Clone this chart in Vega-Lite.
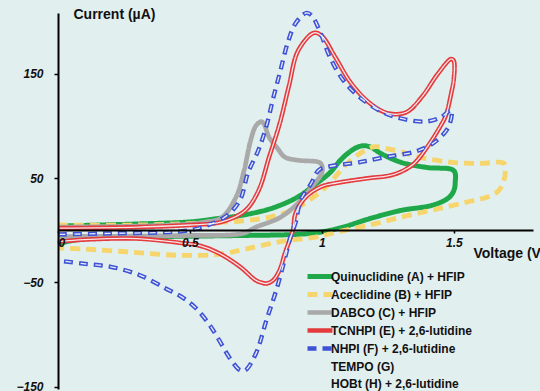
{
  "$schema": "https://vega.github.io/schema/vega-lite/v6.json",
  "autosize": "none",
  "padding": {"left": 58, "top": 13, "right": 7, "bottom": 2},
  "width": 475,
  "height": 376,
  "background": "#e2efef",
  "config": {"view": {"stroke": null}, "font": "Liberation Sans"},
  "datasets": {
    "cv": [
      {"s":"Quinuclidine (A) + HFIP","v":0,"i":4},{"s":"Quinuclidine (A) + HFIP","v":0.3,"i":6},{"s":"Quinuclidine (A) + HFIP","v":0.5,"i":8},{"s":"Quinuclidine (A) + HFIP","v":0.6,"i":11},{"s":"Quinuclidine (A) + HFIP","v":0.69,"i":14},{"s":"Quinuclidine (A) + HFIP","v":0.81,"i":21},{"s":"Quinuclidine (A) + HFIP","v":0.91,"i":32},{"s":"Quinuclidine (A) + HFIP","v":0.97,"i":43},{"s":"Quinuclidine (A) + HFIP","v":1.03,"i":55},{"s":"Quinuclidine (A) + HFIP","v":1.07,"i":67},{"s":"Quinuclidine (A) + HFIP","v":1.1,"i":74},{"s":"Quinuclidine (A) + HFIP","v":1.13,"i":79},{"s":"Quinuclidine (A) + HFIP","v":1.16,"i":81},{"s":"Quinuclidine (A) + HFIP","v":1.19,"i":79},{"s":"Quinuclidine (A) + HFIP","v":1.22,"i":74},{"s":"Quinuclidine (A) + HFIP","v":1.3,"i":65},{"s":"Quinuclidine (A) + HFIP","v":1.4,"i":60},{"s":"Quinuclidine (A) + HFIP","v":1.5,"i":57},{"s":"Quinuclidine (A) + HFIP","v":1.505,"i":45},{"s":"Quinuclidine (A) + HFIP","v":1.5,"i":38},{"s":"Quinuclidine (A) + HFIP","v":1.48,"i":31},{"s":"Quinuclidine (A) + HFIP","v":1.42,"i":24},{"s":"Quinuclidine (A) + HFIP","v":1.3,"i":19},{"s":"Quinuclidine (A) + HFIP","v":1.18,"i":11},{"s":"Quinuclidine (A) + HFIP","v":1.08,"i":3},{"s":"Quinuclidine (A) + HFIP","v":0.99,"i":-2},{"s":"Quinuclidine (A) + HFIP","v":0.9,"i":-4},{"s":"Quinuclidine (A) + HFIP","v":0.7,"i":-5},{"s":"Quinuclidine (A) + HFIP","v":0.4,"i":-6},{"s":"Quinuclidine (A) + HFIP","v":0.15,"i":-7},{"s":"Quinuclidine (A) + HFIP","v":0.05,"i":-10},{"s":"Quinuclidine (A) + HFIP","v":0,"i":-13},

      {"s":"Aceclidine (B) + HFIP","v":0,"i":5},{"s":"Aceclidine (B) + HFIP","v":0.3,"i":5},{"s":"Aceclidine (B) + HFIP","v":0.55,"i":7},{"s":"Aceclidine (B) + HFIP","v":0.7,"i":9},{"s":"Aceclidine (B) + HFIP","v":0.81,"i":13},{"s":"Aceclidine (B) + HFIP","v":0.91,"i":22},{"s":"Aceclidine (B) + HFIP","v":0.99,"i":36},{"s":"Aceclidine (B) + HFIP","v":1.03,"i":45},{"s":"Aceclidine (B) + HFIP","v":1.07,"i":57},{"s":"Aceclidine (B) + HFIP","v":1.11,"i":67},{"s":"Aceclidine (B) + HFIP","v":1.16,"i":76},{"s":"Aceclidine (B) + HFIP","v":1.2,"i":80},{"s":"Aceclidine (B) + HFIP","v":1.25,"i":78},{"s":"Aceclidine (B) + HFIP","v":1.3,"i":75},{"s":"Aceclidine (B) + HFIP","v":1.37,"i":70},{"s":"Aceclidine (B) + HFIP","v":1.49,"i":65},{"s":"Aceclidine (B) + HFIP","v":1.6,"i":64},{"s":"Aceclidine (B) + HFIP","v":1.69,"i":64},{"s":"Aceclidine (B) + HFIP","v":1.695,"i":56},{"s":"Aceclidine (B) + HFIP","v":1.69,"i":48},{"s":"Aceclidine (B) + HFIP","v":1.67,"i":38},{"s":"Aceclidine (B) + HFIP","v":1.63,"i":32},{"s":"Aceclidine (B) + HFIP","v":1.55,"i":27},{"s":"Aceclidine (B) + HFIP","v":1.43,"i":20},{"s":"Aceclidine (B) + HFIP","v":1.3,"i":12.5},{"s":"Aceclidine (B) + HFIP","v":1.18,"i":5},{"s":"Aceclidine (B) + HFIP","v":1.05,"i":-2},{"s":"Aceclidine (B) + HFIP","v":0.99,"i":-6},{"s":"Aceclidine (B) + HFIP","v":0.84,"i":-11},{"s":"Aceclidine (B) + HFIP","v":0.71,"i":-18},{"s":"Aceclidine (B) + HFIP","v":0.61,"i":-23},{"s":"Aceclidine (B) + HFIP","v":0.46,"i":-24},{"s":"Aceclidine (B) + HFIP","v":0.28,"i":-21},{"s":"Aceclidine (B) + HFIP","v":0.1,"i":-18},{"s":"Aceclidine (B) + HFIP","v":0,"i":-17},

      {"s":"DABCO (C) + HFIP","v":0,"i":3},{"s":"DABCO (C) + HFIP","v":0.3,"i":4},{"s":"DABCO (C) + HFIP","v":0.5,"i":6},{"s":"DABCO (C) + HFIP","v":0.56,"i":8},{"s":"DABCO (C) + HFIP","v":0.62,"i":12},{"s":"DABCO (C) + HFIP","v":0.675,"i":32},{"s":"DABCO (C) + HFIP","v":0.705,"i":57},{"s":"DABCO (C) + HFIP","v":0.73,"i":86},{"s":"DABCO (C) + HFIP","v":0.75,"i":100},{"s":"DABCO (C) + HFIP","v":0.77,"i":104},{"s":"DABCO (C) + HFIP","v":0.78,"i":102},{"s":"DABCO (C) + HFIP","v":0.8,"i":89},{"s":"DABCO (C) + HFIP","v":0.83,"i":79},{"s":"DABCO (C) + HFIP","v":0.86,"i":70},{"s":"DABCO (C) + HFIP","v":0.91,"i":67},{"s":"DABCO (C) + HFIP","v":0.99,"i":65},{"s":"DABCO (C) + HFIP","v":1.0,"i":62},{"s":"DABCO (C) + HFIP","v":1.0,"i":55},{"s":"DABCO (C) + HFIP","v":0.96,"i":41},{"s":"DABCO (C) + HFIP","v":0.91,"i":26},{"s":"DABCO (C) + HFIP","v":0.84,"i":12},{"s":"DABCO (C) + HFIP","v":0.75,"i":3},{"s":"DABCO (C) + HFIP","v":0.7,"i":-3},{"s":"DABCO (C) + HFIP","v":0.5,"i":-5},{"s":"DABCO (C) + HFIP","v":0,"i":-6},

      {"s":"TCNHPI (E) + 2,6-lutidine","v":0,"i":2},{"s":"TCNHPI (E) + 2,6-lutidine","v":0.3,"i":3},{"s":"TCNHPI (E) + 2,6-lutidine","v":0.5,"i":5},{"s":"TCNHPI (E) + 2,6-lutidine","v":0.62,"i":8},{"s":"TCNHPI (E) + 2,6-lutidine","v":0.71,"i":19},{"s":"TCNHPI (E) + 2,6-lutidine","v":0.76,"i":38},{"s":"TCNHPI (E) + 2,6-lutidine","v":0.8,"i":70},{"s":"TCNHPI (E) + 2,6-lutidine","v":0.84,"i":102},{"s":"TCNHPI (E) + 2,6-lutidine","v":0.875,"i":138},{"s":"TCNHPI (E) + 2,6-lutidine","v":0.91,"i":172},{"s":"TCNHPI (E) + 2,6-lutidine","v":0.97,"i":189},{"s":"TCNHPI (E) + 2,6-lutidine","v":1.0,"i":186},{"s":"TCNHPI (E) + 2,6-lutidine","v":1.05,"i":166},{"s":"TCNHPI (E) + 2,6-lutidine","v":1.11,"i":141},{"s":"TCNHPI (E) + 2,6-lutidine","v":1.18,"i":122},{"s":"TCNHPI (E) + 2,6-lutidine","v":1.25,"i":112},{"s":"TCNHPI (E) + 2,6-lutidine","v":1.32,"i":113},{"s":"TCNHPI (E) + 2,6-lutidine","v":1.38,"i":128},{"s":"TCNHPI (E) + 2,6-lutidine","v":1.44,"i":150},{"s":"TCNHPI (E) + 2,6-lutidine","v":1.49,"i":164},{"s":"TCNHPI (E) + 2,6-lutidine","v":1.5,"i":162},{"s":"TCNHPI (E) + 2,6-lutidine","v":1.5,"i":145},{"s":"TCNHPI (E) + 2,6-lutidine","v":1.49,"i":131},{"s":"TCNHPI (E) + 2,6-lutidine","v":1.47,"i":110},{"s":"TCNHPI (E) + 2,6-lutidine","v":1.45,"i":100},{"s":"TCNHPI (E) + 2,6-lutidine","v":1.4,"i":80},{"s":"TCNHPI (E) + 2,6-lutidine","v":1.35,"i":64},{"s":"TCNHPI (E) + 2,6-lutidine","v":1.3,"i":56},{"s":"TCNHPI (E) + 2,6-lutidine","v":1.25,"i":52},{"s":"TCNHPI (E) + 2,6-lutidine","v":1.18,"i":50},{"s":"TCNHPI (E) + 2,6-lutidine","v":1.05,"i":45},{"s":"TCNHPI (E) + 2,6-lutidine","v":1.0,"i":42},{"s":"TCNHPI (E) + 2,6-lutidine","v":0.94,"i":32},{"s":"TCNHPI (E) + 2,6-lutidine","v":0.9,"i":16},{"s":"TCNHPI (E) + 2,6-lutidine","v":0.89,"i":0},{"s":"TCNHPI (E) + 2,6-lutidine","v":0.86,"i":-22},{"s":"TCNHPI (E) + 2,6-lutidine","v":0.84,"i":-38},{"s":"TCNHPI (E) + 2,6-lutidine","v":0.815,"i":-48},{"s":"TCNHPI (E) + 2,6-lutidine","v":0.79,"i":-51},{"s":"TCNHPI (E) + 2,6-lutidine","v":0.77,"i":-50},{"s":"TCNHPI (E) + 2,6-lutidine","v":0.75,"i":-48},{"s":"TCNHPI (E) + 2,6-lutidine","v":0.69,"i":-35},{"s":"TCNHPI (E) + 2,6-lutidine","v":0.61,"i":-22},{"s":"TCNHPI (E) + 2,6-lutidine","v":0.54,"i":-15},{"s":"TCNHPI (E) + 2,6-lutidine","v":0.46,"i":-12},{"s":"TCNHPI (E) + 2,6-lutidine","v":0.3,"i":-8},{"s":"TCNHPI (E) + 2,6-lutidine","v":0.1,"i":-9},{"s":"TCNHPI (E) + 2,6-lutidine","v":0,"i":-11},

      {"s":"NHPI (F) + 2,6-lutidine","v":0,"i":-4},{"s":"NHPI (F) + 2,6-lutidine","v":0.2,"i":-3},{"s":"NHPI (F) + 2,6-lutidine","v":0.4,"i":-2},{"s":"NHPI (F) + 2,6-lutidine","v":0.5,"i":0},{"s":"NHPI (F) + 2,6-lutidine","v":0.57,"i":5},{"s":"NHPI (F) + 2,6-lutidine","v":0.64,"i":14},{"s":"NHPI (F) + 2,6-lutidine","v":0.69,"i":29},{"s":"NHPI (F) + 2,6-lutidine","v":0.72,"i":55},{"s":"NHPI (F) + 2,6-lutidine","v":0.76,"i":77},{"s":"NHPI (F) + 2,6-lutidine","v":0.79,"i":100},{"s":"NHPI (F) + 2,6-lutidine","v":0.815,"i":126},{"s":"NHPI (F) + 2,6-lutidine","v":0.84,"i":150},{"s":"NHPI (F) + 2,6-lutidine","v":0.87,"i":179},{"s":"NHPI (F) + 2,6-lutidine","v":0.9,"i":198},{"s":"NHPI (F) + 2,6-lutidine","v":0.94,"i":208},{"s":"NHPI (F) + 2,6-lutidine","v":0.96,"i":206},{"s":"NHPI (F) + 2,6-lutidine","v":0.99,"i":192},{"s":"NHPI (F) + 2,6-lutidine","v":1.03,"i":166},{"s":"NHPI (F) + 2,6-lutidine","v":1.08,"i":144},{"s":"NHPI (F) + 2,6-lutidine","v":1.14,"i":128},{"s":"NHPI (F) + 2,6-lutidine","v":1.23,"i":113},{"s":"NHPI (F) + 2,6-lutidine","v":1.3,"i":107},{"s":"NHPI (F) + 2,6-lutidine","v":1.39,"i":104},{"s":"NHPI (F) + 2,6-lutidine","v":1.45,"i":108},{"s":"NHPI (F) + 2,6-lutidine","v":1.49,"i":115},{"s":"NHPI (F) + 2,6-lutidine","v":1.48,"i":99},{"s":"NHPI (F) + 2,6-lutidine","v":1.42,"i":83},{"s":"NHPI (F) + 2,6-lutidine","v":1.35,"i":75},{"s":"NHPI (F) + 2,6-lutidine","v":1.24,"i":70},{"s":"NHPI (F) + 2,6-lutidine","v":1.14,"i":65},{"s":"NHPI (F) + 2,6-lutidine","v":1.05,"i":62},{"s":"NHPI (F) + 2,6-lutidine","v":0.99,"i":58},{"s":"NHPI (F) + 2,6-lutidine","v":0.96,"i":45},{"s":"NHPI (F) + 2,6-lutidine","v":0.92,"i":29},{"s":"NHPI (F) + 2,6-lutidine","v":0.9,"i":7},{"s":"NHPI (F) + 2,6-lutidine","v":0.88,"i":-7},{"s":"NHPI (F) + 2,6-lutidine","v":0.865,"i":-22},{"s":"NHPI (F) + 2,6-lutidine","v":0.83,"i":-55},{"s":"NHPI (F) + 2,6-lutidine","v":0.79,"i":-86},{"s":"NHPI (F) + 2,6-lutidine","v":0.75,"i":-118},{"s":"NHPI (F) + 2,6-lutidine","v":0.71,"i":-134},{"s":"NHPI (F) + 2,6-lutidine","v":0.69,"i":-134},{"s":"NHPI (F) + 2,6-lutidine","v":0.65,"i":-122},{"s":"NHPI (F) + 2,6-lutidine","v":0.61,"i":-105},{"s":"NHPI (F) + 2,6-lutidine","v":0.57,"i":-89},{"s":"NHPI (F) + 2,6-lutidine","v":0.52,"i":-74},{"s":"NHPI (F) + 2,6-lutidine","v":0.47,"i":-64},{"s":"NHPI (F) + 2,6-lutidine","v":0.41,"i":-56},{"s":"NHPI (F) + 2,6-lutidine","v":0.31,"i":-43},{"s":"NHPI (F) + 2,6-lutidine","v":0.2,"i":-35},{"s":"NHPI (F) + 2,6-lutidine","v":0.095,"i":-32},{"s":"NHPI (F) + 2,6-lutidine","v":0,"i":-29}
    ]
  },
  "layer": [
    {
      "data": {"name": "cv"},
      "mark": {"type": "line", "interpolate": "catmull-rom", "clip": false},
      "encoding": {
        "x": {"field": "v", "type": "quantitative",
          "scale": {"domain": [0, 1.8], "nice": false, "zero": false},
          "axis": {"orient": "bottom", "offset": -159, "zindex": 1, "values": [0, 0.5, 1, 1.5], "labelExpr": "'' + datum.value",
            "grid": false, "domainColor": "#000", "domainWidth": 2, "tickColor": "#000", "tickWidth": 1.5, "tickSize": 3,
            "labelFont": "Liberation Sans", "labelFontSize": 12, "labelFontWeight": "bold", "labelFontStyle": "italic", "labelColor": "#111", "labelPadding": 4,
            "title": "Voltage (V)", "titleFont": "Liberation Sans", "titleFontSize": 14, "titleFontWeight": "bold", "titleColor": "#111",
            "titleAlign": "left", "titleBaseline": "middle", "titleAnchor": null, "titleX": 415, "titleY": 23}},
        "y": {"field": "i", "type": "quantitative",
          "scale": {"domain": [-152, 208], "nice": false, "zero": false},
          "axis": {"orient": "left", "zindex": 1, "values": [-150, -50, 50, 150], "labelExpr": "replace('' + datum.value, '-', '\u2212')",
            "grid": false, "domainColor": "#000", "domainWidth": 2, "tickColor": "#000", "tickWidth": 1.5, "tickSize": 4,
            "labelFont": "Liberation Sans", "labelFontSize": 12, "labelFontWeight": "bold", "labelFontStyle": "italic", "labelColor": "#111", "labelPadding": 11,
            "title": "Current (\u00b5A)", "titleFont": "Liberation Sans", "titleFontSize": 14, "titleFontWeight": "bold", "titleColor": "#111",
            "titleAngle": 0, "titleAlign": "left", "titleBaseline": "middle", "titleAnchor": null, "titleX": 15, "titleY": 1}},
        "order": {"value": null},
        "color": {"field": "s", "type": "nominal",
          "scale": {"domain": ["Quinuclidine (A) + HFIP", "Aceclidine (B) + HFIP", "DABCO (C) + HFIP", "TCNHPI (E) + 2,6-lutidine", "NHPI (F) + 2,6-lutidine", "TEMPO (G)", "HOBt (H) + 2,6-lutidine"],
            "range": ["#1fa84a", "#f6d56c", "#a9a9a9", "#e43a3e", "#3d52d6", "rgba(0,0,0,0)", "rgba(0,0,0,0)"]},
          "legend": {"orient": "none", "legendX": 247, "legendY": 256, "title": null, "padding": 0, "gridAlign": "all",
            "symbolType": "M-1,0H4", "symbolSize": 100, "labelOffset": 11, "rowPadding": -3,
            "labelFont": "Liberation Sans", "labelFontSize": 12, "labelFontWeight": "bold", "labelColor": "#111", "labelLimit": 300}},
        "strokeDash": {"field": "s", "type": "nominal",
          "scale": {"domain": ["Quinuclidine (A) + HFIP", "Aceclidine (B) + HFIP", "DABCO (C) + HFIP", "TCNHPI (E) + 2,6-lutidine", "NHPI (F) + 2,6-lutidine", "TEMPO (G)", "HOBt (H) + 2,6-lutidine"],
            "range": [[1, 0], [10, 6], [1, 0], [1, 0], [9, 6], [1, 0], [1, 0]]},
          "legend": null},
        "strokeWidth": {"field": "s", "type": "nominal",
          "scale": {"domain": ["Quinuclidine (A) + HFIP", "Aceclidine (B) + HFIP", "DABCO (C) + HFIP", "TCNHPI (E) + 2,6-lutidine", "NHPI (F) + 2,6-lutidine", "TEMPO (G)", "HOBt (H) + 2,6-lutidine"],
            "range": [5, 4, 2.5, 4, 4, 1, 1]},
          "legend": null}
      }
    },
    {
      "data": {"name": "cv"},
      "transform": [{"filter": "datum.s === 'TCNHPI (E) + 2,6-lutidine'"}],
      "mark": {"type": "line", "interpolate": "catmull-rom", "color": "#f7e6e6", "strokeWidth": 1.3, "clip": false},
      "encoding": {
        "x": {"field": "v", "type": "quantitative"},
        "y": {"field": "i", "type": "quantitative"},
        "order": {"value": null}
      }
    },
    {
      "data": {"name": "cv"},
      "transform": [{"filter": "datum.s === 'NHPI (F) + 2,6-lutidine'"}],
      "mark": {"type": "line", "interpolate": "catmull-rom", "color": "#e9ecf8", "strokeWidth": 1.3, "strokeDash": [6, 9], "strokeDashOffset": -1.5, "clip": false},
      "encoding": {
        "x": {"field": "v", "type": "quantitative"},
        "y": {"field": "i", "type": "quantitative"},
        "order": {"value": null}
      }
    },
    {
      "mark": {"type": "point", "shape": "triangle-up", "filled": true, "color": "#000", "opacity": 1, "size": 50, "clip": false},
      "encoding": {"x": {"datum": 0}, "y": {"datum": 206}}
    },
    {
      "mark": {"type": "point", "shape": "triangle-right", "filled": true, "color": "#000", "opacity": 1, "size": 50, "clip": false},
      "encoding": {"x": {"datum": 1.79}, "y": {"datum": 0}}
    }
  ]
}
